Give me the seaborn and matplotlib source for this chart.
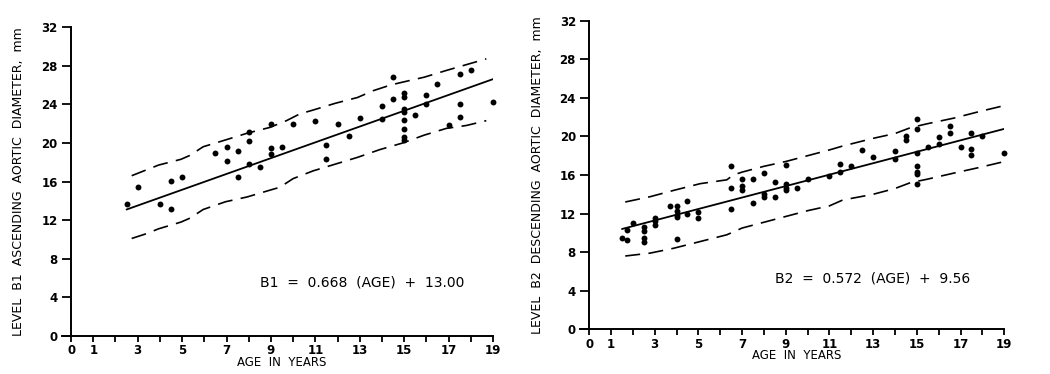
import numpy as np
import pandas as pd
import seaborn as sns
import matplotlib.pyplot as plt

# ---- data ----
# left panel: level B1 ascending aorta
b1_age = [2.5, 3, 4, 4.5, 4.5, 5, 6.5, 7, 7, 7.5, 7.5, 8, 8, 8, 8.5, 9, 9, 9, 9.5,
          10, 11, 11.5, 11.5, 12, 12.5, 13, 14, 14, 14.5, 14.5, 15, 15, 15, 15, 15,
          15, 15, 15, 15.5, 16, 16, 16.5, 17, 17.5, 17.5, 17.5, 18, 19]
b1_diam = [13.7, 15.4, 13.7, 13.2, 16.1, 16.5, 19.0, 19.6, 18.1, 19.2, 16.5, 21.1, 20.2, 17.8, 17.5, 22.0, 19.5, 18.8, 19.6,
           22.0, 22.3, 19.8, 18.3, 22.0, 20.7, 22.6, 23.8, 22.5, 26.8, 24.5, 25.2, 24.7, 23.5, 23.2, 22.4,
           21.4, 20.6, 20.3, 22.9, 25.0, 24.0, 26.1, 21.9, 27.1, 24.0, 22.7, 27.5, 24.2]
b1_fit_age = [2.5, 19]
b1_fit = [13.1, 26.6]
b1_band_age = [2.73, 3.94, 4.95, 5.35, 5.95, 6.95, 7.93, 8.95, 9.7, 10.3, 10.9, 11.9,
               12.9, 13.6, 14.4, 14.95, 15.9, 16.9, 17.8, 18.7]
b1_upper = [16.6, 17.7, 18.3, 18.7, 19.6, 20.3, 21.0, 21.6, 22.3, 23.0, 23.4, 24.1,
            24.7, 25.4, 26.0, 26.3, 26.8, 27.5, 28.1, 28.7]
b1_lower_age = [2.73, 3.4, 3.94, 4.95, 5.35, 5.95, 6.95, 7.93, 8.95, 9.4, 10.0, 10.9,
                11.9, 12.9, 13.9, 14.95, 15.9, 16.9, 17.8, 18.7]
b1_lower = [10.1, 10.6, 11.1, 11.8, 12.2, 13.1, 13.9, 14.4, 15.1, 15.4, 16.3, 17.1,
            17.8, 18.5, 19.3, 20.0, 20.8, 21.5, 21.8, 22.3]

# right panel: level B2 descending aorta
b2_age = [1.5, 1.75, 1.75, 2, 2.5, 2.5, 2.5, 2.5, 3, 3, 3, 3.7, 4, 4, 4, 4, 4,
          4.5, 4.5, 5, 5, 6.5, 6.5, 6.5, 7, 7, 7, 7.5, 7.5, 8, 8, 8, 8.5, 8.5,
          9, 9, 9, 9, 9.5, 10, 11, 11.5, 11.5, 12, 12.5, 13, 14, 14, 14.5, 14.5,
          15, 15, 15, 15, 15, 15, 15, 15.5, 16, 16, 16.5, 16.5, 17, 17.5, 17.5, 17.5, 18, 19]
b2_diam = [9.5, 9.3, 10.3, 11.0, 10.6, 10.2, 9.5, 9.1, 11.5, 11.2, 10.8, 12.8, 12.8, 12.3, 11.9, 11.6, 9.4,
           13.3, 12.0, 12.2, 11.5, 16.9, 14.7, 12.5, 15.6, 14.9, 14.4, 15.6, 13.1, 16.2, 14.0, 13.7, 15.3, 13.7,
           17.0, 15.1, 14.7, 14.4, 14.6, 15.6, 15.9, 17.1, 16.3, 16.9, 18.6, 17.9, 18.5, 17.7, 20.0, 19.6,
           21.8, 20.8, 18.3, 16.9, 16.3, 16.1, 15.1, 18.9, 19.9, 19.2, 21.1, 20.4, 18.9, 20.4, 18.7, 18.1, 20.0, 18.3]
b2_fit_age = [1.5, 19.2]
b2_fit = [10.4, 20.9]
b2_band_age = [1.65, 2.79, 3.86, 5.08, 6.3, 6.6, 7.0, 8.0, 9.0, 10.0, 11.0, 11.6,
               13.0, 14.0, 14.7, 15.45, 16.7, 17.9, 19.2]
b2_upper = [13.2, 13.75, 14.4, 15.1, 15.5, 16.0, 16.3, 16.9, 17.4, 18.0, 18.6, 19.0,
            19.8, 20.3, 20.9, 21.3, 21.9, 22.6, 23.3]
b2_lower = [7.6, 7.9, 8.4, 9.1, 9.8, 10.1, 10.5, 11.1, 11.7, 12.3, 12.8, 13.4,
            14.0, 14.6, 15.2, 15.55, 16.2, 16.8, 17.5]

yticks = [0, 4, 8, 12, 16, 20, 24, 28, 32]
xticks = list(range(20))
xtick_labels = ['0', '1', '', '3', '', '5', '', '7', '', '9', '', '11', '', '13', '', '15', '', '17', '', '19']

sns.set_theme(style='ticks')
plt.rcParams['font.family'] = ['DejaVu Sans']

fig = plt.figure(figsize=(10.5, 3.74), dpi=100)
ax1 = fig.add_axes([0.0588, 0.1016, 0.4107, 0.8262])
ax2 = fig.add_axes([0.5524, 0.1195, 0.4040, 0.8252])


def draw_panel(ax, age, diam, fit_age, fit, up_age, up, lo_age, lo, ylabel, eq, eq_xy):
    sns.scatterplot(x=age, y=diam, ax=ax, color='black', s=18, edgecolor='black',
                    linewidth=0, clip_on=False, zorder=3)
    sns.lineplot(x=fit_age, y=fit, ax=ax, color='black', linewidth=1.3, sort=False, estimator=None)
    for xs, ys in [(up_age, up), (lo_age, lo)]:
        sns.lineplot(x=xs, y=ys, ax=ax, color='black', linewidth=1.2, sort=False,
                     estimator=None)
        ax.lines[-1].set_dashes([9, 5])

    ax.set_xlim(-0.42, 19)
    ax.set_ylim(0, 32)
    ax.spines['left'].set_position(('data', 0))
    ax.spines['right'].set_visible(False)
    ax.spines['top'].set_visible(False)
    for sp in ['left', 'bottom']:
        ax.spines[sp].set_linewidth(1.4)
        ax.spines[sp].set_color('black')
    ax.set_xticks(xticks)
    ax.set_xticklabels(xtick_labels)
    ax.set_yticks(yticks)
    ax.tick_params(axis='both', direction='out', width=1.3, color='black',
                   labelsize=8.5, labelcolor='black')
    ax.tick_params(axis='y', length=6.5, pad=3)
    ax.tick_params(axis='x', length=4.5, pad=1.5)
    for lab in ax.get_xticklabels() + ax.get_yticklabels():
        lab.set_fontweight('bold')

    ax.set_xlabel('AGE  IN  YEARS', fontsize=8.5, color='black')
    ax.xaxis.set_label_coords(0.511, -0.086)
    ax.xaxis.label.set_verticalalignment('center')
    ax.set_ylabel(ylabel, fontsize=9, color='black')
    ax.yaxis.set_label_coords(-0.101, 0.5)
    ax.yaxis.label.set_verticalalignment('center')
    ax.text(eq_xy[0], eq_xy[1], eq, fontsize=10, color='black', ha='left', va='center')
    ax.set_facecolor('white')


draw_panel(ax1, b1_age, b1_diam, b1_fit_age, b1_fit, b1_band_age, b1_upper,
           b1_lower_age, b1_lower,
           'LEVEL  B1  ASCENDING  AORTIC  DIAMETER,  mm',
           'B1  =  0.668  (AGE)  +  13.00', (8.5, 5.5))
draw_panel(ax2, b2_age, b2_diam, b2_fit_age, b2_fit, b2_band_age, b2_upper,
           b2_band_age, b2_lower,
           'LEVEL  B2  DESCENDING  AORTIC  DIAMETER,  mm',
           'B2  =  0.572  (AGE)  +  9.56', (8.5, 5.3))

fig.savefig('out.png', dpi=100, facecolor='white')
